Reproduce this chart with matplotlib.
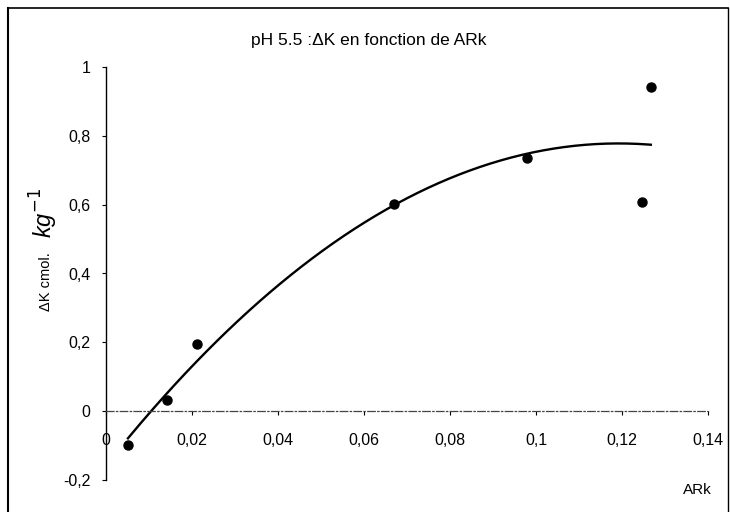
import numpy as np
import matplotlib
matplotlib.use("Agg")
from matplotlib import pyplot as plt
from matplotlib.lines import Line2D

# points
ark = [0.0051, 0.0142, 0.0212, 0.067, 0.0979, 0.1247, 0.1267]
dk = [-0.097, 0.031, 0.194, 0.602, 0.736, 0.608, 0.942]

xticks = [0, 0.02, 0.04, 0.06, 0.08, 0.1, 0.12, 0.14]
xticklabels = ["0", "0,02", "0,04", "0,06", "0,08", "0,1", "0,12", "0,14"]
yticks = [-0.2, 0, 0.2, 0.4, 0.6, 0.8, 1]
yticklabels = ["-0,2", "0", "0,2", "0,4", "0,6", "0,8", "1"]

plt.rcParams["font.family"] = ["Liberation Sans", "DejaVu Sans"]

fig = plt.figure(figsize=(7.3, 5.12), dpi=100)
ax = fig.add_axes([106/730, 1-480/512, (708-106)/730, (480-67)/512])

# polynomial trend line (order 2) like excel
coef = np.polyfit(ark, dk, 2)
xs = np.linspace(min(ark), max(ark), 200)
ax.plot(xs, np.polyval(coef, xs), color="black", lw=1.7)
ax.plot(ark, dk, "o", color="black", ms=6.5)

ax.set_xlim(0, 0.14)
ax.set_ylim(-0.2, 1)
ax.spines["top"].set_visible(False)
ax.spines["right"].set_visible(False)
ax.spines["bottom"].set_position(("data", 0))
ax.spines["bottom"].set_linestyle((0, (6, 2, 1, 2)))
ax.spines["bottom"].set_color("#444444")
ax.spines["bottom"].set_linewidth(0.9)
ax.spines["left"].set_linewidth(1.0)

ax.set_xticks(xticks)
ax.set_xticklabels(xticklabels)
ax.set_yticks(yticks)
ax.set_yticklabels(yticklabels)
ax.tick_params(axis="x", direction="out", length=3, pad=13, labelsize=11.5)
ax.tick_params(axis="y", direction="out", length=3, pad=8, labelsize=11.5)

fig.text(369/730, 1-40/512, "pH 5.5 :ΔK en fonction de ARk", ha="center", va="center", fontsize=12.5)
fig.text(712/730, 1-490/512, "ARk", ha="right", va="center", fontsize=11)
fig.text(46/730, 1-282/512, "ΔK cmol.", rotation=90, ha="center", va="center", fontsize=10.5)
fig.text(44/730, 1-213/512, "kg$^{-1}$", rotation=90, ha="center", va="center", fontsize=17, fontstyle="italic")

# outer frame of the scanned chart
fig.add_artist(Line2D([8/730, 8/730], [0, 1-8/512], color="black", lw=1.5, transform=fig.transFigure))
fig.add_artist(Line2D([8/730, 728/730], [1-8/512, 1-8/512], color="black", lw=1.2, transform=fig.transFigure))
fig.add_artist(Line2D([728/730, 728/730], [1-8/512, 0], color="black", lw=1.0, transform=fig.transFigure))

fig.savefig("out.png", dpi=100)
